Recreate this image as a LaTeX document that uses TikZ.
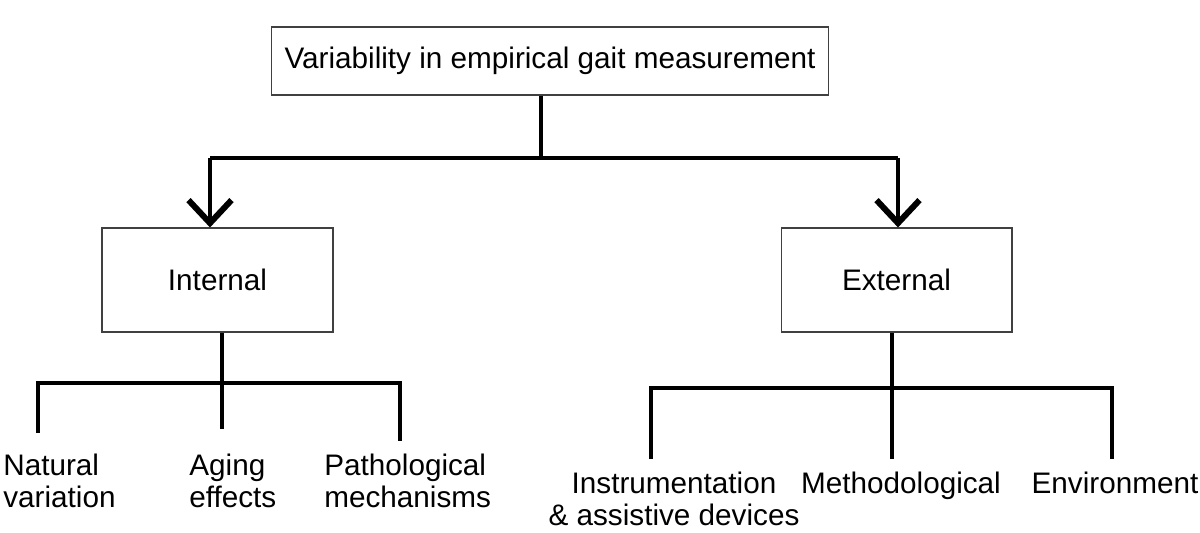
\documentclass[tikz,border=0pt]{standalone}
\usepackage{fontspec}
\setmainfont{Liberation Sans}
\usetikzlibrary{arrows.meta,positioning}

\tikzset{
  box/.style={draw=black!75, line width=0.6pt, minimum width=#1, inner sep=0pt,
    font=\fontsize{16.9}{17.8}\selectfont},
  label/.style={inner sep=0pt, font=\fontsize{16.9}{17.8}\selectfont},
  link/.style={line width=2pt},
  tip/.style={-{Straight Barb[length=4.6mm, width=8.6mm, line width=3.4pt]}}
}

\begin{document}
\begin{tikzpicture}[x=0.02cm, y=-0.02cm]
    \useasboundingbox (0,0) rectangle (1200,533);

    % Boxes
    \node[box=11.16cm, minimum height=1.36cm] (top) at (550,61) {Variability in empirical gait measurement};
    \node[box=4.62cm, minimum height=2.08cm] (int) at (217.5,280) {Internal};
    \node[box=4.62cm, minimum height=2.08cm] (ext) at (896.5,280) {External};

    % Split to the two groups
    \coordinate (fork) at (541,158);
    \coordinate (lfork) at (210,158);
    \coordinate (rfork) at (898,158);
    \draw[link] (top.south -| fork) -- (fork);
    \draw[link] (lfork) -- (rfork);
    \draw[link,tip] (lfork) -- (lfork |- int.north);
    \draw[link,tip] (rfork) -- (rfork |- ext.north);

    % Internal factors
    \coordinate (ifork) at (222,383);
    \coordinate (nat-end) at (38,433);
    \coordinate (age-end) at (222,429);
    \coordinate (pat-end) at (400,441);
    \draw[link] (nat-end) |- (ifork) -| (pat-end);
    \draw[link] (int.south -| ifork) -- (age-end);
    \node[label, anchor=base west, align=left] (nat) at (3,507) {Natural\\variation};
    \node[label, anchor=base west, align=left] (age) at (189,507) {Aging\\effects};
    \node[label, anchor=base west, align=left] (pat) at (324,507) {Pathological\\mechanisms};

    % External factors
    \coordinate (efork) at (892,388);
    \coordinate (ins-end) at (651,459);
    \coordinate (met-end) at (892,459);
    \coordinate (env-end) at (1112,459);
    \draw[link] (ins-end) |- (efork) -| (env-end);
    \draw[link] (ext.south -| efork) -- (met-end);
    \node[label, anchor=base, align=center] (ins) at (674,525) {Instrumentation\\\& assistive devices};
    \node[label, anchor=base] (met) at (901,493) {Methodological};
    \node[label, anchor=base] (env) at (1115,493) {Environment};
\end{tikzpicture}
\end{document}
